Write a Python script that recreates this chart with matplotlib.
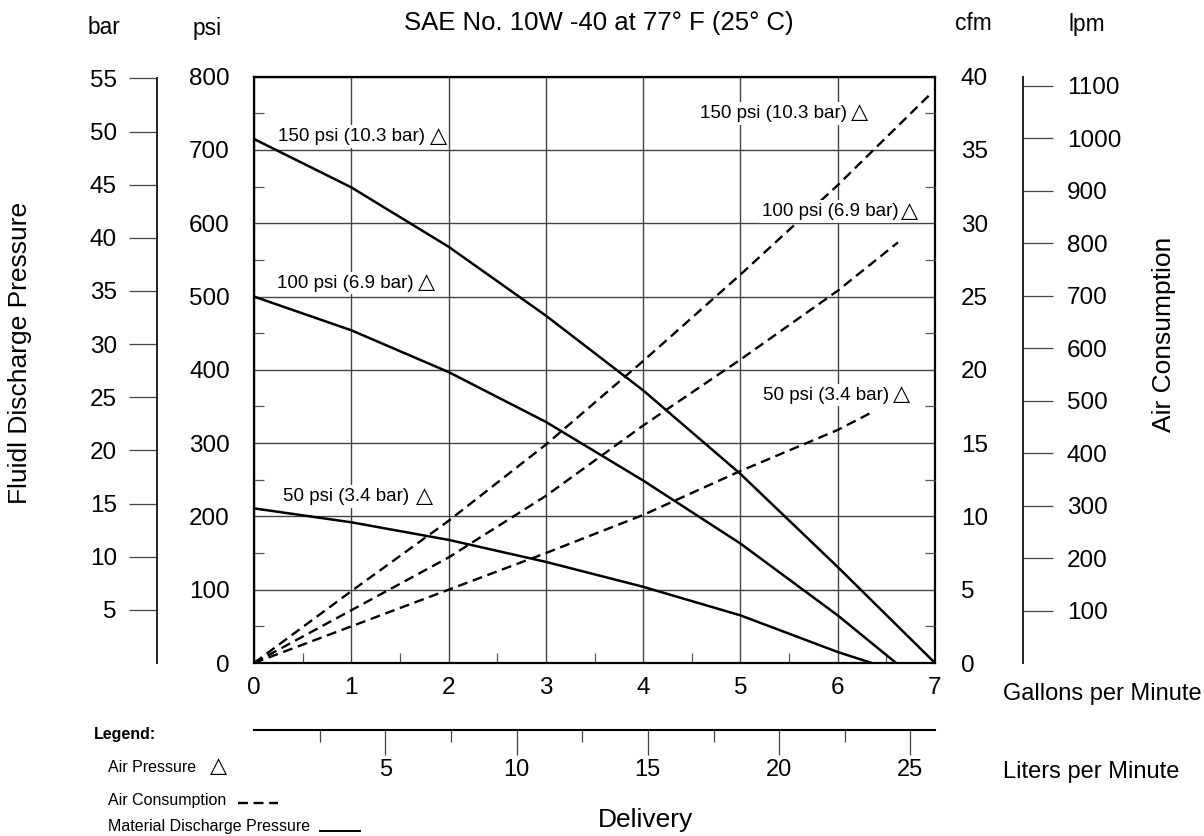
import matplotlib
matplotlib.use('Agg')
import matplotlib.pyplot as plt
import matplotlib.transforms as mtransforms
from matplotlib.lines import Line2D
import numpy as np

plt.rcParams['font.family'] = ['Liberation Sans', 'DejaVu Sans']

# ---------------- data ----------------
# Material discharge pressure (psi) vs delivery (gpm)
gpm_150 = [0, 1, 2, 3, 4, 5, 6, 7]
psi_150 = [715, 649, 568, 474, 372, 258, 131, 0]
gpm_100 = [0, 1, 2, 3, 4, 5, 6, 6.6]
psi_100 = [500, 454, 397, 329, 249, 163, 65, 0]
gpm_50 = [0, 1, 2, 3, 4, 5, 6, 6.35]
psi_50 = [211, 192, 168, 138, 104, 65, 15, 0]

# Air consumption (cfm) vs delivery (gpm)
air_gpm_150 = [0, 1, 2, 3, 4, 5, 6, 6.95]
cfm_150 = [0, 4.9, 9.7, 14.9, 20.6, 26.5, 32.6, 38.8]
air_gpm_100 = [0, 1, 2, 3, 4, 5, 6, 6.62]
cfm_100 = [0, 3.6, 7.2, 11.4, 16.2, 20.7, 25.4, 28.7]
air_gpm_50 = [0, 1, 2, 3, 4, 5, 6, 6.35]
cfm_50 = [0, 2.5, 5.0, 7.5, 10.1, 13.1, 15.9, 17.1]

gpm_ticks = [0, 1, 2, 3, 4, 5, 6, 7]
psi_ticks = [0, 100, 200, 300, 400, 500, 600, 700, 800]
cfm_ticks = [0, 5, 10, 15, 20, 25, 30, 35, 40]
bar_ticks = [5, 10, 15, 20, 25, 30, 35, 40, 45, 50, 55]
lpm_air_ticks = [100, 200, 300, 400, 500, 600, 700, 800, 900, 1000, 1100]
lpm_flow_ticks = [5, 10, 15, 20, 25]
lpm_flow_minor = [2.5, 7.5, 12.5, 17.5, 22.5]

curve_labels = ['150 psi (10.3 bar)', '100 psi (6.9 bar)', '50 psi (3.4 bar)']
title = 'SAE No. 10W -40 at 77° F (25° C)'

# scale relations as drawn on the chart
PSI_PER_BAR = 14.5038
LPM_PER_CFM = 27.94
LPM_PER_GPM = 3.705

# ---------------- figure ----------------
W, H = 1204, 836
fig = plt.figure(figsize=(W / 100, H / 100), dpi=100)
px = mtransforms.Affine2D().scale(1 / W, -1 / H).translate(0, 1) + fig.transFigure


def ftext(x, y, s, **kw):
    fig.text(x / W, 1 - y / H, s, **kw)


L, R, T, B = 254, 935, 76.7, 663
ax = fig.add_axes([L / W, 1 - B / H, (R - L) / W, (B - T) / H])
ax.set_xlim(0, 7)
ax.set_ylim(0, 800)

lw_curve = 1.8
ax.plot(gpm_150, psi_150, color='black', lw=lw_curve, zorder=3)
ax.plot(gpm_100, psi_100, color='black', lw=lw_curve, zorder=3)
ax.plot(gpm_50, psi_50, color='black', lw=lw_curve, zorder=3)

# twin axes
ax_cfm = ax.twinx()
ax_bar = ax.twinx()
ax_lpm = ax.twinx()
ax_flow = ax.twiny()

# ---- main axes ticks ----
ax.set_xticks(gpm_ticks)
ax.set_yticks(psi_ticks)
ax.set_xticks(np.arange(0.5, 7, 1), minor=True)
ax.set_yticks(np.arange(50, 800, 100), minor=True)
ax.grid(True, which='major', color='#444444', lw=1.0)
ax.tick_params(which='major', length=0, labelsize=17.5)
ax.tick_params(axis='x', which='major', pad=9.8)
ax.tick_params(axis='y', which='major', pad=17.3)
ax.tick_params(which='minor', direction='in', length=7.5, width=0.9, color='#555555')
ax.yaxis.set_ticks_position('left')
ax.xaxis.set_ticks_position('bottom')
for s in ax.spines.values():
    s.set_linewidth(1.6)

# ---- cfm (right) ----
ax_cfm.set_ylim(0, 40)
dash = (0, (4.2, 2.4))
ax_cfm.plot(air_gpm_150, cfm_150, color='black', lw=1.7, linestyle=dash, zorder=3)
ax_cfm.plot(air_gpm_100, cfm_100, color='black', lw=1.7, linestyle=dash, zorder=3)
ax_cfm.plot(air_gpm_50, cfm_50, color='black', lw=1.7, linestyle=dash, zorder=3)
ax_cfm.set_yticks(cfm_ticks)
ax_cfm.set_yticks(np.arange(2.5, 40, 5), minor=True)
ax_cfm.tick_params(axis='y', which='major', length=0, pad=18.7, labelsize=17.5)
ax_cfm.tick_params(axis='y', which='minor', direction='in', length=7.5, width=0.9, color='#555555')
for s in ax_cfm.spines.values():
    s.set_visible(False)

# ---- bar (far left) ----
ax_bar.set_ylim(0, 800 / PSI_PER_BAR)
for k, s in ax_bar.spines.items():
    s.set_visible(k == 'left')
ax_bar.spines['left'].set_position(('outward', 70))
ax_bar.spines['left'].set_bounds(0, 55)
ax_bar.spines['left'].set_linewidth(1.4)
ax_bar.spines['left'].set_color('#222222')
ax_bar.yaxis.set_ticks_position('left')
ax_bar.yaxis.set_label_position('left')
ax_bar.set_yticks(bar_ticks)
ax_bar.tick_params(axis='y', direction='out', length=20.4, width=0.9, color='#444444',
                   pad=8.4, labelsize=17.5)

# ---- lpm (far right) ----
ax_lpm.set_ylim(0, 40 * LPM_PER_CFM)
for k, s in ax_lpm.spines.items():
    s.set_visible(k == 'right')
ax_lpm.spines['right'].set_position(('outward', 63.4))
ax_lpm.spines['right'].set_linewidth(1.4)
ax_lpm.spines['right'].set_color('#222222')
ax_lpm.set_yticks(lpm_air_ticks)
ax_lpm.tick_params(axis='y', direction='out', length=21.6, width=0.9, color='#444444',
                   pad=10, labelsize=17.5)

# ---- liters per minute (bottom) ----
ax_flow.set_xlim(0, 7 * LPM_PER_GPM)
for k, s in ax_flow.spines.items():
    s.set_visible(k == 'bottom')
ax_flow.xaxis.set_ticks_position('bottom')
ax_flow.xaxis.set_label_position('bottom')
ax_flow.spines['bottom'].set_position(('outward', 48.2))
ax_flow.spines['bottom'].set_linewidth(1.5)
ax_flow.set_xticks(lpm_flow_ticks)
ax_flow.set_xticks(lpm_flow_minor, minor=True)
ax_flow.tick_params(axis='x', which='major', direction='out', length=18, width=0.9,
                    color='#444444', pad=3, labelsize=17)
ax_flow.tick_params(axis='x', which='minor', direction='out', length=8.6, width=0.9,
                    color='#444444')

# ---------------- curve labels ----------------
box = dict(boxstyle='square,pad=0.15', fc='white', ec='none')
tri_box = dict(boxstyle='square,pad=0.05', fc='white', ec='none')
label_layout = [
    # (text, left px, center y px, triangle right px)
    (curve_labels[0], 278, 136.7, 447),
    (curve_labels[1], 277, 283, 435),
    (curve_labels[2], 283, 496.7, 433),
    (curve_labels[0], 700, 113.3, 868),
    (curve_labels[1], 762, 211.7, 918),
    (curve_labels[2], 763, 395, 910),
]
for s, xl, yc, xr in label_layout:
    ax_cfm.text(xl, yc, s, transform=px, fontsize=13.5, ha='left', va='center',
                bbox=box, zorder=6, clip_on=False)
    ax_cfm.text(xr, yc - 1, '△', transform=px, fontsize=16, ha='right', va='center',
                family='DejaVu Sans', bbox=tri_box, zorder=7, clip_on=False)

# ---------------- titles / unit labels ----------------
ftext(599, 23, title, fontsize=18.5, ha='center', va='center')
ftext(104, 28, 'bar', fontsize=16.4, ha='center', va='center')
ftext(207, 28, 'psi', fontsize=16.4, ha='center', va='center')
ftext(973, 23, 'cfm', fontsize=16.4, ha='center', va='center')
ftext(1087, 25, 'lpm', fontsize=16.4, ha='center', va='center')
ftext(20, 353, 'Fluidl Discharge Pressure', fontsize=19, rotation=90, ha='center', va='center')
ftext(1164, 334, 'Air Consumption', fontsize=19, rotation=90, ha='center', va='center')
ftext(1003, 694, 'Gallons per Minute', fontsize=17, ha='left', va='center')
ftext(1003, 772, 'Liters per Minute', fontsize=17, ha='left', va='center')
ftext(645.5, 820, 'Delivery', fontsize=19, ha='center', va='center')

# ---------------- legend block ----------------
ftext(94, 734, 'Legend:', fontsize=11.5, fontweight='bold', ha='left', va='center')
ftext(108, 767, 'Air Pressure', fontsize=11.5, ha='left', va='center')
ftext(227, 766, '△', fontsize=16, family='DejaVu Sans', ha='right', va='center')
ftext(108, 800, 'Air Consumption', fontsize=11.5, ha='left', va='center')
ftext(108, 826, 'Material Discharge Pressure', fontsize=11.5, ha='left', va='center')
fig.add_artist(Line2D([238, 278], [803, 803], transform=px, color='black', lw=1.7,
                      linestyle=dash))
fig.add_artist(Line2D([320, 360], [831, 831], transform=px, color='black', lw=1.4))

fig.savefig('out.png', dpi=100)
